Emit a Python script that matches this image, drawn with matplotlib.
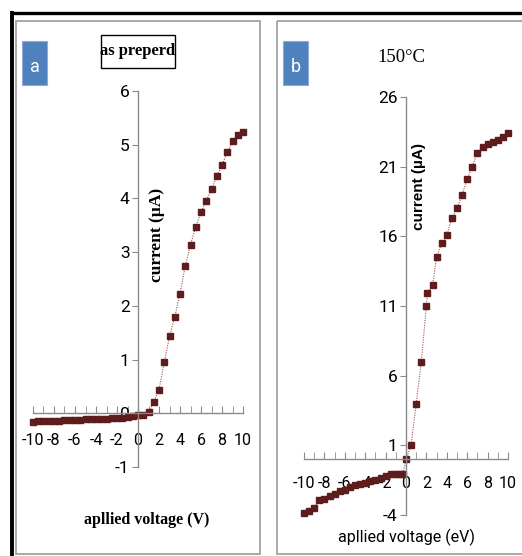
import numpy as np
import matplotlib
matplotlib.use('Agg')
import matplotlib.pyplot as plt
from matplotlib.patches import Rectangle
from matplotlib.ticker import MultipleLocator, FixedLocator

# panel a : as preperd
volt_a = [-10, -9.5, -9, -8.5, -8, -7.5, -7, -6.5, -6, -5.5, -5, -4.5, -4, -3.5,
          -3, -2.5, -2, -1.5, -1, -0.5, 0, 0.5, 1, 1.5, 2, 2.5, 3, 3.5, 4, 4.5,
          5, 5.5, 6, 6.5, 7, 7.5, 8, 8.5, 9, 9.5, 10]
curr_a = [-0.16, -0.15, -0.15, -0.14, -0.14, -0.14, -0.13, -0.13, -0.13, -0.12,
          -0.11, -0.11, -0.11, -0.10, -0.10, -0.09, -0.08, -0.08, -0.07, -0.05,
          -0.04, -0.03, 0.02, 0.21, 0.44, 0.95, 1.43, 1.80, 2.23, 2.74, 3.14,
          3.47, 3.74, 3.96, 4.17, 4.41, 4.62, 4.86, 5.06, 5.19, 5.24]

# panel b : 150 C
volt_b = [-10, -9.5, -9, -8.5, -8, -7.5, -7, -6.5, -6, -5.5, -5, -4.5, -4, -3.5,
          -3, -2.5, -2, -1.5, -1, -0.6, -0.3, 0, 0.5, 1, 1.5, 2, 2.1, 2.6, 3,
          3.5, 4, 4.5, 5, 5.5, 6, 6.5, 7, 7.5, 8, 8.5, 9, 9.5, 10]
curr_b = [-3.83, -3.70, -3.49, -2.90, -2.87, -2.65, -2.46, -2.30, -2.18, -1.98,
          -1.87, -1.79, -1.67, -1.58, -1.46, -1.34, -1.22, -1.08, -1.03, -1.03,
          -1.03, 0.0, 1.0, 4.0, 7.0, 11.0, 11.9, 12.5, 14.5, 15.5, 16.1, 17.3,
          18.0, 19.0, 20.1, 21.0, 22.0, 22.4, 22.6, 22.8, 22.9, 23.1, 23.4]

yticks_a = [-1, 0, 1, 2, 3, 4, 5, 6]
yticks_b = [-4, 1, 6, 11, 16, 21, 26]
xticks = [-10, -8, -6, -4, -2, 0, 2, 4, 6, 8, 10]

W, H = 522, 556
narrow = ['Roboto', 'DejaVu Sans']
serif = ['Liberation Serif', 'DejaVu Serif']
mark_col = '#5e1c1c'
axis_col = '#8a8a8a'

fig = plt.figure(figsize=(W / 100, H / 100), dpi=100)

# background layer in pixel coords
bg = fig.add_axes([0, 0, 1, 1], zorder=0)
bg.set_xlim(0, W)
bg.set_ylim(H, 0)
bg.axis('off')

bg.plot([12, W], [12.5, 12.5], color='black', lw=2.4, solid_capstyle='butt')
bg.plot([12, 12], [11, H], color='black', lw=2.8, solid_capstyle='butt')
bg.add_patch(Rectangle((16, 21), 244, 533, fill=False, ec='#a8a8a8', lw=1.4))
bg.add_patch(Rectangle((277, 21), 260, 533, fill=False, ec='#a8a8a8', lw=1.4))

for (bx, lab) in [(22, 'a'), (283, 'b')]:
    bg.add_patch(Rectangle((bx, 41), 25, 44, fc='#4f81bd', ec='#8eaad6', lw=0.8))
    bg.text(bx + 12.5, 67, lab, color='white', fontsize=13, ha='center',
            va='center', family=narrow)

bg.add_patch(Rectangle((100.5, 35), 74.5, 32.5, fill=False, ec='black', lw=1.0))
bg.text(138, 51, 'as preperd', fontsize=12, ha='center', va='center',
        family=serif, weight='bold')
bg.text(401, 57, '150°C', fontsize=13.5, ha='center', va='center', family=serif)

bg.text(157, 235, 'current (µA)', rotation=90, fontsize=12.5, ha='center',
        va='center', family=serif, weight='bold')
bg.text(419, 186, 'current (µA)', rotation=90, fontsize=11, ha='center',
        va='center', family=['Liberation Sans', 'DejaVu Sans'], weight='bold')

bg.text(147, 520, 'apllied voltage (V)', fontsize=11.5, ha='center',
        va='center', family=serif, weight='bold')
bg.text(407, 537, 'apllied voltage (eV)', fontsize=11.5, ha='center',
        va='center', family=narrow)


def make_axes(x0, x1, ytop, ybot, x, y, yt, xpad):
    ax = fig.add_axes([x0 / W, 1 - ybot / H, (x1 - x0) / W, (ybot - ytop) / H],
                      zorder=2)
    ax.patch.set_alpha(0)
    ax.plot(x, y, ls=(0, (1, 1.2)), lw=0.8, color='#a05050',
            marker='s', ms=4.2, mfc=mark_col, mec=mark_col, clip_on=False)
    ax.set_xlim(-10, 10)
    ax.set_ylim(yt[0], yt[-1])
    ax.spines['left'].set_position(('data', 0))
    ax.spines['bottom'].set_position(('data', 0))
    ax.spines['top'].set_visible(False)
    ax.spines['right'].set_visible(False)
    for s in ['left', 'bottom']:
        ax.spines[s].set_color(axis_col)
        ax.spines[s].set_linewidth(1.0)
    ax.xaxis.set_major_locator(FixedLocator(xticks))
    ax.xaxis.set_minor_locator(MultipleLocator(1))
    ax.set_yticks(yt)
    ax.tick_params(axis='x', which='both', direction='in', length=5,
                   color=axis_col, pad=xpad, labelsize=11.5)
    ax.tick_params(axis='y', direction='out', length=4, color=axis_col,
                   pad=2, labelsize=12.5)
    ax.set_xticklabels([str(v) for v in xticks])
    ax.set_yticklabels([str(v) for v in yt])
    for t in ax.get_xticklabels() + ax.get_yticklabels():
        t.set_family(narrow)
    return ax


make_axes(33, 243, 91, 467, volt_a, curr_a, yticks_a, 14)
make_axes(304, 508, 97, 515, volt_b, curr_b, yticks_b, 12)

fig.savefig('out.png', dpi=100)
